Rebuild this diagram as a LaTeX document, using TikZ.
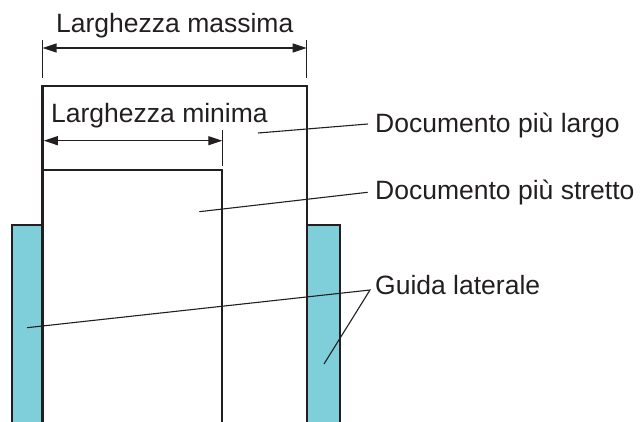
\documentclass[tikz,border=0pt]{standalone}
\usepackage{fontspec}
\setmainfont{Liberation Sans}
\usetikzlibrary{arrows.meta}
\definecolor{ink}{HTML}{231F20}
\definecolor{guidefill}{HTML}{7FCFDB}
\tikzset{
  edge/.style={draw=ink, line width=2.6pt, line join=miter},
  guide/.style={fill=guidefill, draw=ink, line width=2.6pt},
  leader/.style={draw=ink, line width=1.1pt},
  dimline/.style={draw=ink, line width=1.1pt, {Triangle[length=14pt,width=9pt]}-{Triangle[length=14pt,width=9pt]}},
  tick/.style={draw=ink, line width=1.1pt},
  lbl/.style={inner sep=0pt, anchor=base west, text=ink, font=\fontsize{26.5pt}{30pt}\selectfont},
}
\begin{document}
\begin{tikzpicture}[x=1pt,y=-1pt]
\useasboundingbox (0,0) rectangle (641,422);
% side guides
\path[guide] (12,430) -- (12,225) -- (43,225) -- (43,430);
\path[guide] (307,430) -- (307,225) -- (340,225) -- (340,430);
% documents
\path[edge] (42.5,430) -- (42.5,86) -- (307,86) -- (307,430);
\path[edge] (42.5,170) -- (222,170) -- (222,430);
% dimension: maximum width
\coordinate (maxL) at (42.5,48);
\coordinate (maxR) at (306.7,48);
\draw[tick] (42.5,40) -- (42.5,78);
\draw[tick] (306.7,40) -- (306.7,78);
\draw[dimline] (maxL) -- (maxR);
\node[lbl] (tmax) at (56,33) {Larghezza massima};
% dimension: minimum width
\coordinate (minL) at (43.8,140.7);
\coordinate (minR) at (222.3,140.7);
\draw[tick] (222.3,130) -- (222.3,166);
\draw[dimline] (minL) -- (minR);
\node[lbl] (tmin) at (51,123) {Larghezza minima};
% labels
\node[lbl] (twide) at (375,133) {Documento più largo};
\node[lbl] (tnarrow) at (375,200) {Documento più stretto};
\node[lbl] (tguide) at (375,295) {Guida laterale};
% leader anchor points
\coordinate (pwide) at (368,124);
\coordinate (awide) at (258,133);
\coordinate (pnarrow) at (367.7,192.3);
\coordinate (anarrow) at (199.3,211.7);
\coordinate (pguide) at (370,290);
\coordinate (aguideL) at (27,327.7);
\coordinate (aguideR) at (324,364);
\draw[leader] (pwide) -- (awide);
\draw[leader] (pnarrow) -- (anarrow);
\draw[leader] (aguideL) -- (pguide) -- (aguideR);
\end{tikzpicture}
\end{document}
